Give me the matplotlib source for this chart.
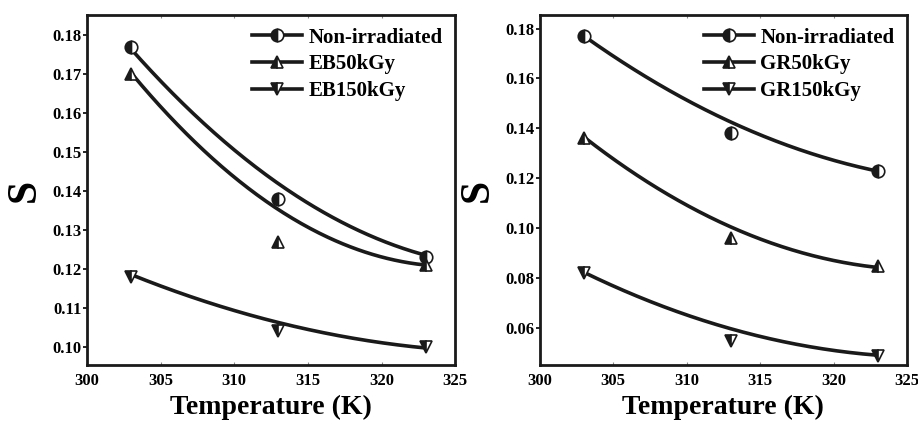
import numpy as np
import matplotlib
matplotlib.use("Agg")
import matplotlib.pyplot as plt
from matplotlib.lines import Line2D

plt.rcParams['font.family'] = ['Liberation Serif', 'DejaVu Serif']
plt.rcParams['font.weight'] = 'bold'

temps = [303, 313, 323]

# Left panel (EB) measured values
left_labels = ["Non-irradiated", "EB50kGy", "EB150kGy"]
left_non = [0.177, 0.138, 0.123]
left_50 = [0.170, 0.127, 0.121]
left_150 = [0.118, 0.104, 0.100]

# Right panel (GR) measured values
right_labels = ["Non-irradiated", "GR50kGy", "GR150kGy"]
right_non = [0.177, 0.138, 0.123]
right_50 = [0.136, 0.096, 0.085]
right_150 = [0.082, 0.055, 0.049]

# Fitted curves at these temperatures
curve_t = [303, 308, 313, 318, 323]
left_non_fit = [0.177, 0.1556, 0.1428, 0.1309, 0.1232]
left_50_fit = [0.170, 0.1510, 0.1344, 0.1257, 0.1210]
left_150_fit = [0.118, 0.1129, 0.1056, 0.1018, 0.1000]
right_non_fit = [0.177, 0.1580, 0.1427, 0.1307, 0.1230]
right_50_fit = [0.136, 0.1173, 0.1007, 0.0887, 0.0850]
right_150_fit = [0.082, 0.0707, 0.0593, 0.0527, 0.0495]

markers = ['o', '^', 'v']
INK = '#1a1a1a'

fig = plt.figure(figsize=(9.18, 4.24), dpi=100)
ax1 = fig.add_axes([0.0948, 0.139, 0.401, 0.825])
ax2 = fig.add_axes([0.588, 0.139, 0.400, 0.825])


def draw(ax, labels, series, fits, ylim, yticks, yfmt):
    xs = np.linspace(curve_t[0], curve_t[-1], 200)
    handles = []
    for lab, ys, fit, m in zip(labels, series, fits, markers):
        coef = np.polyfit(curve_t, fit, 2)
        ax.plot(xs, np.polyval(coef, xs), color=INK, lw=2.6, zorder=2)
        ax.plot(temps, ys, linestyle='none', marker=m, markersize=9,
                fillstyle='left', markerfacecolor=INK,
                markerfacecoloralt='white', markeredgecolor=INK,
                markeredgewidth=1.2, zorder=3)
        handles.append(Line2D([0], [0], color=INK, lw=2.6, marker=m,
                              markersize=9, fillstyle='left',
                              markerfacecolor=INK,
                              markerfacecoloralt='white',
                              markeredgecolor=INK, markeredgewidth=1.2))
    ax.set_xlim(300, 325)
    ax.set_ylim(*ylim)
    ax.set_xticks([300, 305, 310, 315, 320, 325])
    ax.set_yticks(yticks)
    ax.set_yticklabels([yfmt.format(v) for v in yticks])
    for lbl in ax.get_xticklabels() + ax.get_yticklabels():
        lbl.set_fontweight('bold')
        lbl.set_fontsize(12)
    ax.tick_params(axis='y', direction='out', length=3, width=1.2, pad=1)
    ax.tick_params(axis='x', direction='in', length=2, width=0.8, top=True,
                   color='#888888', pad=6)
    for sp in ax.spines.values():
        sp.set_linewidth(2.0)
        sp.set_color(INK)
    ax.set_xlabel('Temperature (K)', fontsize=20, fontweight='bold', labelpad=4)
    ax.set_ylabel('S', fontsize=30, fontweight='bold', labelpad=6)
    ax.legend(handles, labels, loc='upper right', frameon=False,
              handlelength=2.4, handletextpad=0.3,
              labelspacing=0.32, borderaxespad=0.2,
              prop={'weight': 'bold', 'size': 15})


draw(ax1, left_labels, [left_non, left_50, left_150],
     [left_non_fit, left_50_fit, left_150_fit],
     (0.0953, 0.1851), [0.10, 0.11, 0.12, 0.13, 0.14, 0.15, 0.16, 0.17, 0.18],
     '{:.2f}')
draw(ax2, right_labels, [right_non, right_50, right_150],
     [right_non_fit, right_50_fit, right_150_fit],
     (0.0453, 0.1853), [0.06, 0.08, 0.10, 0.12, 0.14, 0.16, 0.18], '{:.2f}')

fig.savefig('out.png', dpi=100)
